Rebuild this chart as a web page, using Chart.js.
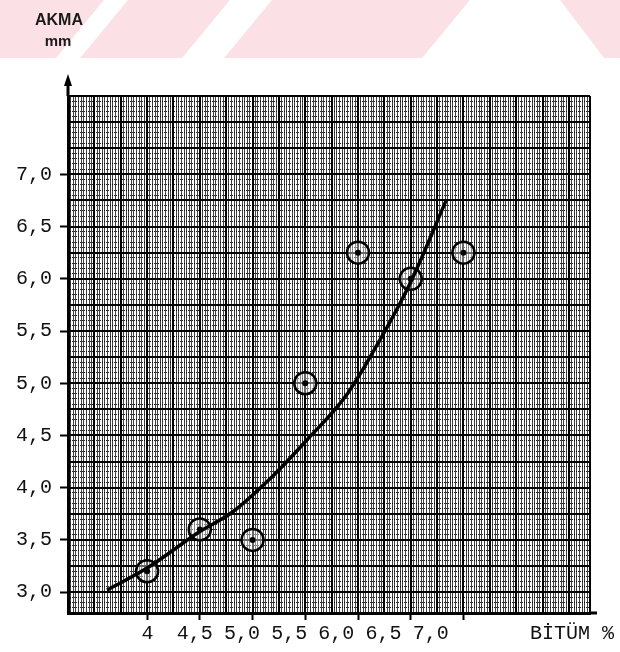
<!DOCTYPE html>
<html>
<head>
<meta charset="utf-8">
<title>Akma - Bitüm</title>
<script src="https://cdn.jsdelivr.net/npm/chart.js@4.4.1/dist/chart.umd.min.js"></script>
<style>
  html, body { margin: 0; padding: 0; background: #fff; }
  #wrap { position: relative; width: 620px; height: 652px; }
</style>
</head>
<body>
<div id="wrap"><canvas id="akma-chart"></canvas></div>
<script>
// Measured flow (mm) for each bitumen content (%)
const bitumPercent = [4.0, 4.5, 5.0, 5.5, 6.0, 6.5, 7.0];
const akmaValues = [3.2, 3.6, 3.5, 5.0, 6.25, 6.0, 6.25];

// Hand-drawn trend curve
const curveX = [3.62, 4.0, 4.5, 4.8, 5.2, 5.5, 5.9, 6.2, 6.5, 6.84];
const curveY = [3.02, 3.23, 3.58, 3.76, 4.12, 4.44, 4.9, 5.4, 5.97, 6.76];

// Tick labels as typed on the sheet
const xTickValues = [4, 4.5, 5, 5.5, 6, 6.5, 7];
const xTickLabels = ['4', '4,5', '5,0', '5,5', '6,0', '6,5', '7,0'];
const yTickValues = [3, 3.5, 4, 4.5, 5, 5.5, 6, 6.5, 7];
const yTickLabels = ['3,0', '3,5', '4,0', '4,5', '5,0', '5,5', '6,0', '6,5', '7,0'];

const MONO = "'Liberation Mono', 'DejaVu Sans Mono', monospace";

function isMajor(ctx, step) {
    if (!ctx.tick) return false;
    const v = ctx.tick.value;
    if (Math.abs(v - ctx.scale.max) < 1e-6) return true;
    return Math.abs(v / step - Math.round(v / step)) < 1e-6;
}

// Paper background, header watermark, axis arrow and the axis captions.
const sheetDecor = {
    id: 'sheetDecor',
    beforeDraw(chart) {
        const ctx = chart.ctx;
        ctx.save();
        ctx.fillStyle = '#fff';
        ctx.fillRect(0, 0, chart.width, chart.height);

        ctx.fillStyle = 'rgba(232, 80, 100, 0.17)';
        const bands = [
            [[0, 0], [104, 0], [56, 58], [0, 58]],
            [[128, 0], [230, 0], [182, 58], [80, 58]],
            [[272, 0], [470, 0], [422, 58], [224, 58]],
            [[560, 0], [620, 0], [620, 58], [604, 58]]
        ];
        bands.forEach(poly => {
            ctx.beginPath();
            ctx.moveTo(poly[0][0], poly[0][1]);
            poly.slice(1).forEach(p => ctx.lineTo(p[0], p[1]));
            ctx.closePath();
            ctx.fill();
        });
        ctx.restore();
    },
    afterDraw(chart) {
        const {ctx, chartArea} = chart;
        ctx.save();
        ctx.strokeStyle = '#000';
        ctx.fillStyle = '#000';

        // vertical axis runs past the grid and ends in an arrow
        ctx.lineWidth = 3;
        ctx.beginPath();
        ctx.moveTo(chartArea.left, chartArea.top);
        ctx.lineTo(chartArea.left, chartArea.top - 14);
        ctx.stroke();
        ctx.beginPath();
        ctx.moveTo(chartArea.left, chartArea.top - 22);
        ctx.lineTo(chartArea.left - 4, chartArea.top - 10);
        ctx.lineTo(chartArea.left + 4, chartArea.top - 10);
        ctx.closePath();
        ctx.fill();

        // horizontal axis sticks out a little on the right
        ctx.beginPath();
        ctx.moveTo(chartArea.right, chartArea.bottom);
        ctx.lineTo(chartArea.right + 7, chartArea.bottom);
        ctx.stroke();

        // y axis caption
        ctx.fillStyle = '#1a1a1a';
        ctx.textAlign = 'center';
        ctx.textBaseline = 'alphabetic';
        ctx.font = "bold 16px 'Liberation Sans', Arial, sans-serif";
        ctx.fillText('AKMA', 59, 25);
        ctx.font = "bold 15px 'Liberation Sans', Arial, sans-serif";
        ctx.fillText('mm', 58, 46);

        // x axis caption, on the same line as the tick labels
        ctx.fillStyle = '#111';
        ctx.textAlign = 'right';
        ctx.textBaseline = 'middle';
        ctx.font = '20px ' + MONO;
        ctx.fillText('BİTÜM %', 614, 634);
        ctx.restore();
    }
};

// lower order is drawn on top: dots over the curve over the rings
const datasets = [
    {
        // open ring around each measurement
        data: bitumPercent.map((x, i) => ({ x: x, y: akmaValues[i] })),
        order: 2,
        showLine: false,
        pointRadius: 11,
        pointBorderWidth: 2.5,
        pointBorderColor: '#000',
        pointBackgroundColor: 'rgba(255,255,255,0.4)'
    },
    {
        // centre dot of each measurement
        data: bitumPercent.map((x, i) => ({ x: x, y: akmaValues[i] })),
        order: 0,
        showLine: false,
        pointRadius: 3,
        pointBorderWidth: 0,
        pointBackgroundColor: '#000'
    },
    {
        data: curveX.map((x, i) => ({ x: x, y: curveY[i] })),
        order: 1,
        showLine: true,
        pointRadius: 0,
        borderColor: '#000',
        borderWidth: 3.5,
        cubicInterpolationMode: 'monotone',
        fill: false
    }
];

new Chart(document.getElementById('akma-chart'), {
    type: 'scatter',
    data: { datasets: datasets },
    options: {
        responsive: true,
        maintainAspectRatio: false,
        animation: false,
        events: [],
        layout: { padding: { top: 96, right: 30, left: 0, bottom: 0 } },
        plugins: {
            legend: { display: false },
            tooltip: { enabled: false }
        },
        scales: {
            // graph paper: fine vertical rules, heavier every 0.25
            x: {
                type: 'linear', position: 'bottom', weight: 0,
                min: 3.25, max: 8.2,
                ticks: { display: false, stepSize: 0.025, includeBounds: false, maxTicksLimit: 1000 },
                grid: {
                    drawTicks: false,
                    color: c => isMajor(c, 0.25) ? '#000' : 'rgba(0,0,0,0.75)',
                    lineWidth: c => isMajor(c, 0.25) ? 2 : 1
                },
                border: { display: true, color: '#000', width: 3 }
            },
            xTicks: {
                type: 'linear', position: 'bottom', weight: 1,
                min: 3.25, max: 8.2,
                afterBuildTicks: s => { s.ticks = xTickValues.map(v => ({ value: v })); },
                ticks: { display: false },
                grid: { drawOnChartArea: false, drawTicks: true, tickLength: 7, tickWidth: 2, tickColor: '#000' },
                border: { display: false }
            },
            // typed labels sit a little tighter than the ruled ticks
            xLabels: {
                type: 'linear', position: 'bottom', weight: 2,
                min: 3.158, max: 8.686,
                afterBuildTicks: s => { s.ticks = xTickValues.map(v => ({ value: v })); },
                afterFit: s => { s.height = 32; },
                ticks: {
                    autoSkip: false, maxRotation: 0, minRotation: 0, padding: 2,
                    color: '#111', font: { family: MONO, size: 20 },
                    callback: (v, i) => xTickLabels[i]
                },
                grid: { display: false, drawTicks: false },
                border: { display: false }
            },
            // graph paper: dotted horizontal rules, solid every 0.25
            y: {
                type: 'linear', position: 'left', weight: 0,
                min: 2.8, max: 7.75,
                ticks: { display: false, stepSize: 0.05, includeBounds: false, maxTicksLimit: 1000 },
                grid: {
                    drawTicks: false,
                    color: c => isMajor(c, 0.25) ? '#000' : 'rgba(0,0,0,0.85)',
                    lineWidth: c => isMajor(c, 0.25) ? 2 : 1
                },
                border: {
                    display: true, color: '#000', width: 3,
                    dash: c => (c.tick && !isMajor(c, 0.25)) ? [1, 1] : []
                }
            },
            yLabels: {
                type: 'linear', position: 'left', weight: 1,
                min: 2.8, max: 7.75,
                afterBuildTicks: s => { s.ticks = yTickValues.map(v => ({ value: v })); },
                afterFit: s => { s.width = 68; },
                ticks: {
                    autoSkip: false, padding: 8,
                    color: '#111', font: { family: MONO, size: 20 },
                    callback: (v, i) => yTickLabels[i]
                },
                grid: { drawOnChartArea: false, drawTicks: true, tickLength: 8, tickWidth: 2, tickColor: '#000' },
                border: { display: false }
            }
        }
    },
    plugins: [sheetDecor]
});
</script>
</body>
</html>
